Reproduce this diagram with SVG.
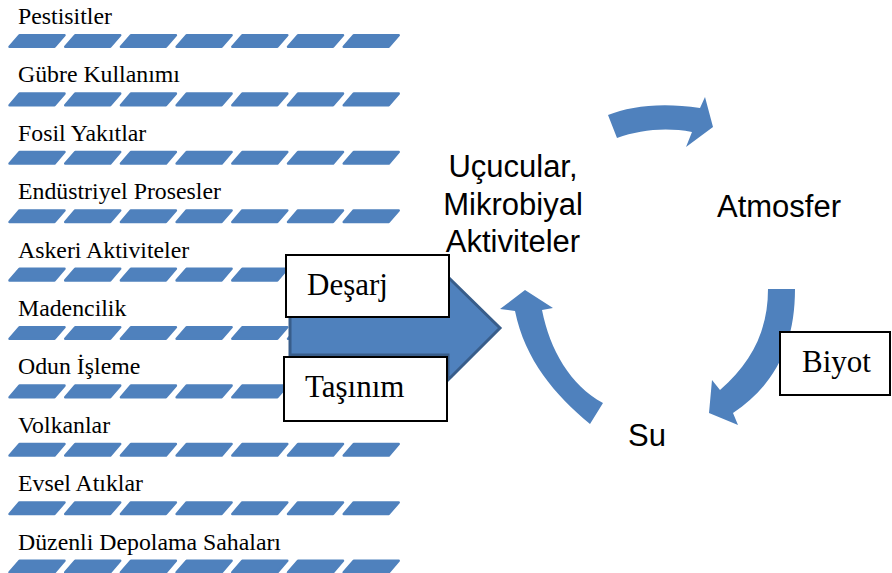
<svg xmlns="http://www.w3.org/2000/svg" xmlns:xlink="http://www.w3.org/1999/xlink" width="892" height="573" viewBox="0 0 892 573">
<style>
.lbl{font-family:"Liberation Serif","Times New Roman",serif;font-size:23.8px;fill:#000}
.box{fill:#fff;stroke:#000;stroke-width:2}
.btxt{font-family:"Liberation Serif","Times New Roman",serif;font-size:31px;fill:#000}
.sans{font-family:"Liberation Sans",Arial,sans-serif;font-size:31px;fill:#000}
.bar{fill:#4f81bd;stroke:#4f81bd;stroke-width:2.5;stroke-linejoin:round}
.cyc{fill:#4f81bd}
</style>
<defs>
<polygon id="bar" class="bar" points="11.5,1.2 56.5,1.2 46.5,12.8 1.5,12.8"/>
<g id="barrow">
<use xlink:href="#bar" x="0"/>
<use xlink:href="#bar" x="55.7"/>
<use xlink:href="#bar" x="111.4"/>
<use xlink:href="#bar" x="167.1"/>
<use xlink:href="#bar" x="222.8"/>
<use xlink:href="#bar" x="278.5"/>
<use xlink:href="#bar" x="334.2"/>
</g>
</defs>
<rect width="892" height="573" fill="#fff"/>
<g id="sources">
<g id="src-pestisitler"><text class="lbl" x="18" y="24">Pestisitler</text><use xlink:href="#barrow" x="8" y="34"/></g>
<g id="src-gubre"><text class="lbl" x="18" y="82.4">Gübre Kullanımı</text><use xlink:href="#barrow" x="8" y="92.4"/></g>
<g id="src-fosil"><text class="lbl" x="18" y="140.8">Fosil Yakıtlar</text><use xlink:href="#barrow" x="8" y="150.8"/></g>
<g id="src-endustriyel"><text class="lbl" x="18" y="199.2">Endüstriyel Prosesler</text><use xlink:href="#barrow" x="8" y="209.2"/></g>
<g id="src-askeri"><text class="lbl" x="18" y="257.6">Askeri Aktiviteler</text><use xlink:href="#barrow" x="8" y="267.6"/></g>
<g id="src-madencilik"><text class="lbl" x="18" y="316">Madencilik</text><use xlink:href="#barrow" x="8" y="326"/></g>
<g id="src-odun"><text class="lbl" x="18" y="374.4">Odun İşleme</text><use xlink:href="#barrow" x="8" y="384.4"/></g>
<g id="src-volkan"><text class="lbl" x="18" y="432.8">Volkanlar</text><use xlink:href="#barrow" x="8" y="442.8"/></g>
<g id="src-evsel"><text class="lbl" x="18" y="491.2">Evsel Atıklar</text><use xlink:href="#barrow" x="8" y="501.2"/></g>
<g id="src-duzenli"><text class="lbl" x="18" y="549.6">Düzenli Depolama Sahaları</text><use xlink:href="#barrow" x="8" y="559.6"/></g>
</g>
<g id="connectors">
<path id="big-arrow" d="M290,301 L448,301 L448,277 L500,328 L448,380 L448,355 L290,355 Z" fill="#4f81bd" stroke="#385d8a" stroke-width="3" stroke-linejoin="miter"/>
<path id="arrow-top" class="cyc" d="M608,115 C630,106 662,102 700,108 L705,97 L713,127 L686,147 L692,132 C665,127 640,130 617,138 Z"/>
<path id="arrow-right" class="cyc" d="M768,289 L795,289 C795,345 775,385 733,413 L738,425 L709,413 L712,380 L720,390 C752,362 768,330 768,289 Z"/>
<path id="arrow-left" class="cyc" d="M590,424 C555,395 525,360 515,311 L500,309 L525,290 L553,308 L542,310 C550,350 570,385 603,403 Z"/>
</g>
<g id="node-desarj"><rect class="box" x="286" y="255" width="163" height="62"/><text class="btxt" x="307" y="295">Deşarj</text></g>
<g id="node-tasinim"><rect class="box" x="284" y="357" width="163" height="64"/><text class="btxt" x="305" y="397">Taşınım</text></g>
<g id="node-biyot"><rect class="box" x="780" y="332" width="110" height="63"/><text class="btxt" x="802" y="372">Biyot</text></g>
<g id="node-ucucular"><text class="sans" text-anchor="middle"><tspan x="513" y="177">Uçucular,</tspan><tspan x="513" y="215">Mikrobiyal</tspan><tspan x="513" y="252">Aktiviteler</tspan></text></g>
<g id="node-atmosfer"><text class="sans" x="717" y="217">Atmosfer</text></g>
<g id="node-su"><text class="sans" x="647" y="446" text-anchor="middle">Su</text></g>
</svg>
